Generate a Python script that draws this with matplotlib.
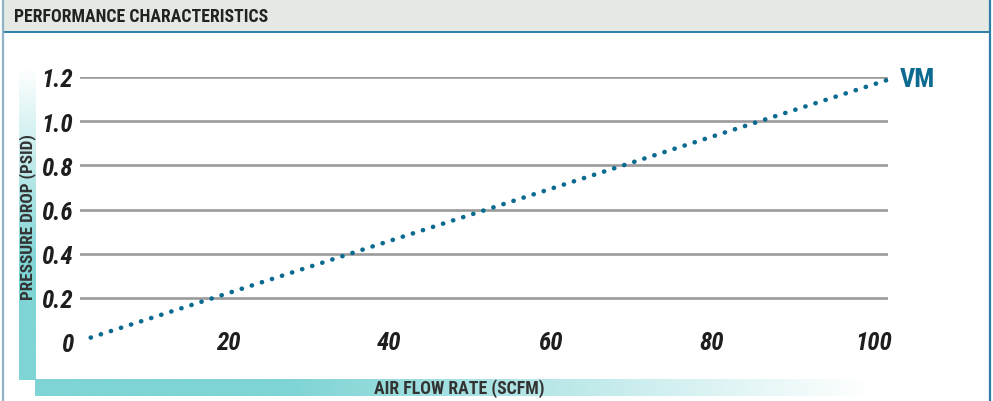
import numpy as np
import matplotlib
matplotlib.use("Agg")
import matplotlib.pyplot as plt
from matplotlib.colors import to_rgb
from matplotlib import font_manager as fm

# ---- data ----
flow_scfm = [3, 102]
pressure_psid = [0.02, 1.19]
series_name = "VM"
x_ticks = [20, 40, 60, 80, 100]
x_tick_labels = ["20", "40", "60", "80", "100"]
y_ticks = [0, 0.2, 0.4, 0.6, 0.8, 1.0, 1.2]
y_tick_labels = ["0", "0.2", "0.4", "0.6", "0.8", "1.0", "1.2"]
title = "PERFORMANCE CHARACTERISTICS"
x_label = "AIR FLOW RATE (SCFM)"
y_label = "PRESSURE DROP (PSID)"


def pick_font():
    entries = fm.fontManager.ttflist
    names = {f.name for f in entries}
    for c in ["Liberation Sans Narrow", "Roboto Condensed", "Open Sans Condensed",
              "Noto Sans Condensed", "DejaVu Sans Condensed"]:
        if c in names:
            return c, "normal"
    for fam in ["Noto Sans", "Open Sans", "DejaVu Sans", "Roboto"]:
        for f in entries:
            if f.name == fam and "condensed" in str(f.stretch).lower():
                return fam, "condensed"
    return "Roboto", "normal"


FAM, STRETCH = pick_font()
FONT = [FAM, "DejaVu Sans"]
TXT = dict(family=FONT, stretch=STRETCH)

W, H = 993, 402
fig = plt.figure(figsize=(W / 100, H / 100), dpi=100)

# background decoration axes in pixel coordinates
bg = fig.add_axes([0, 0, 1, 1], zorder=0)
bg.set_xlim(0, W)
bg.set_ylim(H, 0)
bg.axis("off")

teal = np.array(to_rgb("#7fd4d5"))
white = np.array([1.0, 1.0, 1.0])

# header band
bg.add_patch(plt.Rectangle((3, 0), 987, 33, color="#e4e9e3", lw=0, zorder=1))
bg.plot([3, 990], [33, 33], color="#2e7ea6", lw=1.4, zorder=2)
bg.plot([3, 3], [0, H], color="#8db3c4", lw=1.6, zorder=2)
bg.plot([990, 990], [0, H], color="#2e7ea6", lw=1.6, zorder=2)
bg.text(14, 17, title, fontsize=12.8, fontweight="bold", color="#222222",
        va="center", ha="left", zorder=3, **TXT)

# vertical gradient bar (pale at top -> teal at bottom)
n = 256
t = np.linspace(0, 1, n)
t = np.clip(t * 1.6, 0, 1)
vgrad = (white[None, :] * (1 - t)[:, None] + teal[None, :] * t[:, None])[:, None, :]
bg.imshow(vgrad, extent=(19, 36, 381, 68), aspect="auto", zorder=1,
          interpolation="bilinear")
# horizontal gradient bar (teal left -> white right)
s = np.linspace(0, 1, n)
s = np.clip((s - 0.3) / 0.7, 0, 1)
hgrad = (teal[None, :] * (1 - s)[:, None] + white[None, :] * s[:, None])[None, :, :]
bg.imshow(hgrad, extent=(35, 872, 397, 380), aspect="auto", zorder=1,
          interpolation="bilinear")

bg.text(459, 389, x_label, fontsize=12.8, fontweight="bold", color="#333333",
        ha="center", va="center", zorder=3, **TXT)
bg.text(28, 217, y_label, fontsize=12.4, fontweight="bold", color="#333333",
        ha="center", va="center", rotation=90, zorder=3, **TXT)

# main axes
L, R, T, B = 80, 888, 78, 343
ax = fig.add_axes([L / W, 1 - B / H, (R - L) / W, (B - T) / H], zorder=2)
ax.patch.set_alpha(0)
px_per_unit = 8.07
x0_px = 66.5
ax.set_xlim((L - x0_px) / px_per_unit, (R - x0_px) / px_per_unit)
ax.set_ylim(0, 1.2)
for sp in ax.spines.values():
    sp.set_visible(False)

ax.set_yticks(y_ticks)
ax.set_yticklabels(y_tick_labels)
ax.set_xticks(x_ticks)
ax.set_xticklabels(x_tick_labels)
ax.tick_params(axis="both", length=0)
ax.tick_params(axis="y", pad=5)
ax.tick_params(axis="x", pad=0)
for lab in ax.get_xticklabels() + ax.get_yticklabels():
    lab.set_fontfamily(FONT)
    lab.set_fontstretch(STRETCH)
    lab.set_fontsize(18)
    lab.set_fontweight("bold")
    lab.set_fontstyle("italic")
    lab.set_color("#1e1e1e")
for lab in ax.get_xticklabels():
    lab.set_va("center")

ax.grid(axis="y", color="#9a9a9a", lw=1.9)
ax.grid(axis="x", visible=False)
ax.yaxis.get_gridlines()[0].set_visible(False)
ax.set_axisbelow(True)

ax.plot(flow_scfm, pressure_psid, color="#0b6a8f", lw=3.3,
        linestyle=(0, (0.05, 2.258)), dash_capstyle="round", clip_on=False,
        zorder=3)
ax.annotate(series_name, xy=(flow_scfm[-1], pressure_psid[-1]),
            xytext=(7, 0), textcoords="offset points", va="center",
            ha="left", fontsize=19, fontweight="bold", color="#0b6a8f",
            annotation_clip=False, **TXT)

fig.savefig("out.png", dpi=100)
